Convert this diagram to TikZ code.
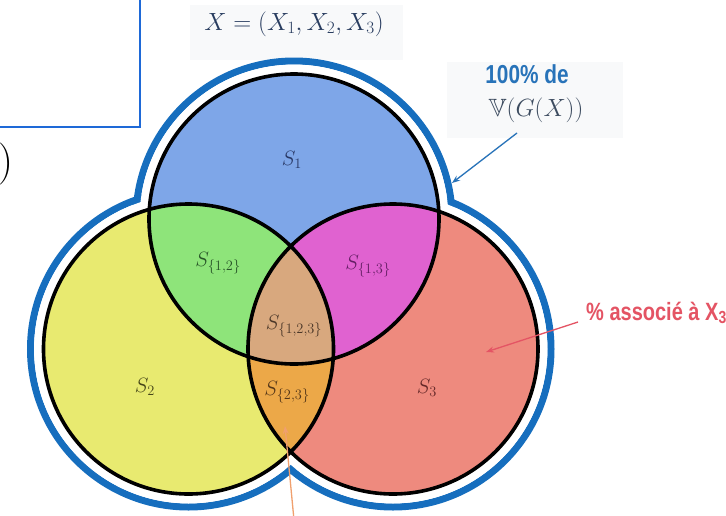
\documentclass[tikz,border=0pt]{standalone}
\usepackage{fontspec}
\usepackage{amssymb}
\usetikzlibrary{arrows.meta}
\newfontfamily\condfont[FakeStretch=0.8]{Liberation Sans}
\definecolor{cblue}{RGB}{126,166,232}
\definecolor{cgreen}{RGB}{142,228,122}
\definecolor{cmag}{RGB}{224,98,208}
\definecolor{ctan}{RGB}{216,168,126}
\definecolor{cyel}{RGB}{232,234,112}
\definecolor{corange}{RGB}{236,168,72}
\definecolor{csal}{RGB}{238,138,126}
\definecolor{ringblue}{RGB}{22,110,190}
\definecolor{rectblue}{RGB}{30,105,215}
\definecolor{boxgray}{RGB}{248,249,250}
\definecolor{titlecol}{RGB}{40,60,95}
\definecolor{hundblue}{RGB}{40,115,185}
\definecolor{vcol}{RGB}{60,75,95}
\definecolor{redtxt}{RGB}{228,84,100}
\definecolor{orarrow}{RGB}{240,160,110}
\tikzset{
  ring/.style={draw=ringblue, line width=7pt},
  outline/.style={draw=black, line width=3.6pt},
  setlabel/.style={inner sep=0pt, font=\fontsize{22}{22}\selectfont},
  arr/.style={line width=1.3pt, -{Stealth[length=8pt,width=6pt]}}
}
\begin{document}
\begin{tikzpicture}[x=1pt,y=-1pt]
\useasboundingbox (0,0) rectangle (726,515);
\clip (0,0) rectangle (726,515);
\fill[white] (0,0) rectangle (726,515);
% faint background boxes
\fill[boxgray] (190,5) rectangle (403,60);
\fill[boxgray] (447,62) rectangle (623,138);
% partial box and parenthesis at top left
\draw[rectblue, line width=2.5pt] (-10,-10) rectangle (140,127);
\node[anchor=east, inner sep=0pt, font=\fontsize{42}{42}\selectfont] (paren) at (14,164) {)};
% centres
\coordinate (C1) at (294,219);
\coordinate (C2) at (188.5,349);
\coordinate (C3) at (393,349);
% outer blue contour of the union
\foreach \c in {C1,C2,C3} \draw[ring] (\c) circle[radius=158pt];
\foreach \c in {C1,C2,C3} \fill[white] (\c) circle[radius=154.4pt];
% region fills
\fill[cyel] (C2) circle[radius=145pt];
\fill[csal] (C3) circle[radius=145pt];
\fill[cblue] (C1) circle[radius=145pt];
\begin{scope}
  \clip (C2) circle[radius=145pt];
  \fill[corange] (C3) circle[radius=145pt];
\end{scope}
\begin{scope}
  \clip (C1) circle[radius=145pt];
  \fill[cgreen] (C2) circle[radius=145pt];
  \fill[cmag] (C3) circle[radius=145pt];
  \clip (C2) circle[radius=145pt];
  \fill[ctan] (C3) circle[radius=145pt];
\end{scope}
% black outlines
\foreach \c in {C1,C2,C3} \draw[outline] (\c) circle[radius=145pt];
% region labels
\node[setlabel, text={rgb,255:red,40;green,55;blue,100}] (s1) at (292,160) {$S_1$};
\node[setlabel, text={rgb,255:red,40;green,85;blue,40}] (s12) at (218,263) {$S_{\{1,2\}}$};
\node[setlabel, text={rgb,255:red,100;green,30;blue,100}] (s13) at (368,266) {$S_{\{1,3\}}$};
\node[setlabel, text={rgb,255:red,75;green,55;blue,40}] (s123) at (294,326) {$S_{\{1,2,3\}}$};
\node[setlabel, text={rgb,255:red,70;green,70;blue,25}] (s2) at (145,387) {$S_2$};
\node[setlabel, text={rgb,255:red,85;green,55;blue,25}] (s23) at (287,392) {$S_{\{2,3\}}$};
\node[setlabel, text={rgb,255:red,100;green,40;blue,40}] (s3) at (427,388) {$S_3$};
% title
\node[inner sep=0pt, text=titlecol, font=\fontsize{24}{24}\selectfont] (title) at (294,24) {$X=(X_1,X_2,X_3)$};
% 100% label
\node[inner sep=0pt, text=hundblue, font=\condfont\bfseries\fontsize{26}{26}\selectfont] (hund) at (527,74) {100\% de};
\node[inner sep=0pt, text=vcol, font=\fontsize{25}{25}\selectfont] (vg) at (536,110) {$\mathbb{V}(G(X))$};
\coordinate (b1) at (517,133);
\coordinate (b2) at (452,183);
\draw[arr, hundblue] (b1) -- (b2);
% red label
\node[anchor=west, inner sep=0pt, text=redtxt, font=\condfont\bfseries\fontsize{25}{25}\selectfont] (assoc) at (586,313) {\% associé à X\textsubscript{3}};
\coordinate (r1) at (578,322);
\coordinate (r2) at (486,352);
\draw[arr, redtxt] (r1) -- (r2);
% orange arrow
\coordinate (o1) at (294,520);
\coordinate (o2) at (285,426);
\draw[arr, orarrow] (o1) -- (o2);
\end{tikzpicture}
\end{document}
